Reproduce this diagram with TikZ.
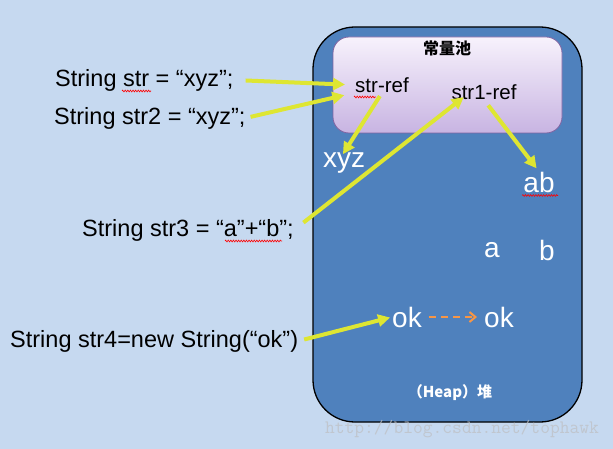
\documentclass[tikz,border=0pt]{standalone}
\usepackage{fontspec}
\setmainfont{Liberation Sans}
\newfontfamily\cjk{Noto Sans CJK SC}
\usetikzlibrary{arrows.meta,decorations.pathmorphing}
\definecolor{bg}{RGB}{198,217,240}
\definecolor{heapc}{RGB}{79,129,189}
\definecolor{ylw}{RGB}{222,230,50}
\definecolor{orng}{RGB}{247,150,70}
\definecolor{pooltop}{RGB}{247,242,252}
\definecolor{poolbot}{RGB}{200,180,226}
\definecolor{poolline}{RGB}{128,100,162}
\definecolor{wm}{RGB}{190,192,196}
\tikzset{
  code/.style={inner sep=0pt, anchor=west, text=black, font=\fontsize{23.5}{28}\selectfont},
  refl/.style={inner sep=0pt, text=black, font=\fontsize{20.5}{24}\selectfont},
  val/.style={inner sep=0pt, text=white, font=\fontsize{28}{32}\selectfont},
  yarrow/.style={draw=ylw, line width=4pt, -{Triangle[length=12pt,width=12pt]}},
  oarrow/.style={draw=orng, line width=2pt, dash pattern=on 7pt off 5pt, -{Straight Barb[length=6pt,width=10pt,line width=2pt]}},
  heapbox/.style={draw=black, line width=1.3pt, fill=heapc, rounded corners=42pt, inner sep=0pt},
  poolbox/.style={draw=poolline, line width=0.8pt, top color=pooltop, bottom color=poolbot, rounded corners=16pt, inner sep=0pt},
  spell/.style={draw=red, line width=0.6pt, decorate, decoration={zigzag, amplitude=0.9pt, segment length=2.6pt}}
}
\begin{document}
\begin{tikzpicture}[x=1pt,y=-1pt]
\fill[bg] (0,0) rectangle (613,449);
\useasboundingbox (0,0) rectangle (613,449);

% boxes
\node[heapbox, minimum width=269pt, minimum height=395pt] (heap) at (447.5,224.5) {};
\node[poolbox, minimum width=229pt, minimum height=96pt] (pool) at (447.5,85) {};

% pool texts
\node[inner sep=0pt, font=\cjk\bfseries\fontsize{16}{18}\selectfont] (pooltitle) at (447,48) {常量池};
\node[refl] (ref) at (382,85) {str-ref};
\node[refl] (r1) at (484,92) {str1-ref};

% heap values
\node[val] (xyz) at (344,163) {xyz};
\node[val] (ab) at (539,182) {ab};
\node[val] (a) at (492,250) {a};
\node[val] (b) at (547,250) {b};
\node[val] (ok1) at (407,317) {ok};
\node[val] (ok2) at (499,317) {ok};
\node[inner sep=0pt, text=white, font=\cjk\bfseries\fontsize{15}{18}\selectfont] (heaplabel) at (450,393) {（Heap）堆};
\node[inner sep=0pt, text=wm, opacity=0.75, font=\ttfamily\fontsize{19}{20}\selectfont] (wmark) at (462,429) {http://blog.csdn.net/tophawk};

% code lines
\node[code] (s1) at (55,80) {String str = “xyz”;};
\node[code] (s2) at (54,118) {String str2 = “xyz”;};
\node[code] (s3) at (82,230) {String str3 = “a”+“b”;};
\node[code] (s4) at (10,341) {String str4=new String(“ok”)};

% spell-check underlines
\draw[spell] (122,91) -- (151,91);
\draw[spell] (225,241) -- (282,241);
\draw[spell] (354,97) -- (376,97);
\draw[spell] (ab.south west) ++(-1,3) -- ++(36,0);

% connectors
\draw[yarrow, shorten <=12pt, shorten >=10pt] (s1.east) -- (ref.west);
\draw[yarrow, shorten <=5pt, shorten >=11pt] (s2.east) -- (ref.south west);
\draw[yarrow, shorten <=4pt, shorten >=-2pt] (ref.south) -- (xyz.north);
\draw[yarrow, shorten <=12pt, shorten >=-1pt] (s3.east) -- ([xshift=-21pt,yshift=2pt]r1.south);
\draw[yarrow, shorten <=7pt, shorten >=4pt] (r1.south) -- (ab.north);
\draw[yarrow, shorten <=6pt, shorten >=2pt] (s4.east) -- (ok1.west);
\draw[oarrow, shorten <=7pt, shorten >=7pt] (ok1.east) -- (ok2.west);
\end{tikzpicture}
\end{document}
